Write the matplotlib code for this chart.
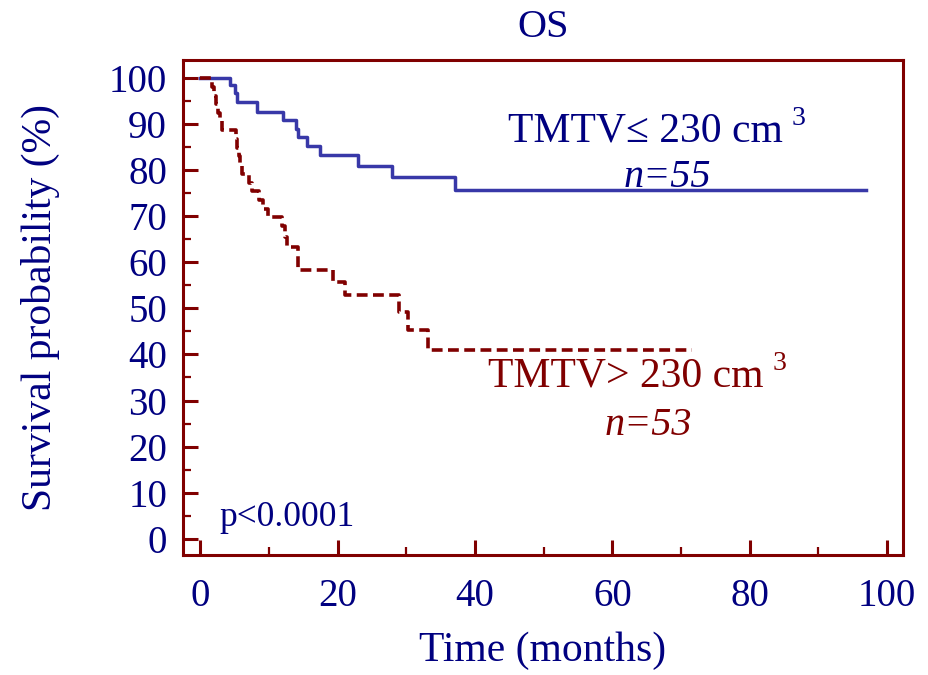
import matplotlib
matplotlib.use("Agg")
import matplotlib.pyplot as plt
from matplotlib.ticker import MultipleLocator

plt.rcParams["font.family"] = ["Liberation Serif", "DejaVu Serif"]

NAVY = "#000080"
MAROON = "#800000"
BLUE = "#3838a8"

# Kaplan-Meier steps (months, % surviving)
low_t = [0, 4.4, 5.1, 5.4, 8.3, 12.1, 13.9, 14.3, 15.5, 17.4, 23.0, 27.9, 37.1, 96.9]
low_s = [100, 98.5, 96.7, 94.7, 92.7, 91.0, 88.9, 87.1, 85.2, 83.3, 80.9, 78.6, 75.6, 75.6]

high_t = [0, 1.7, 2.0, 2.3, 2.6, 2.9, 3.2, 5.2, 5.4, 5.6, 5.8, 6.1, 7.1, 7.5, 8.6,
          9.2, 9.8, 11.9, 12.3, 12.7, 14.3, 19.4, 21.1, 28.9, 30.3, 33.2, 71.6]
high_s = [100, 98.1, 96.2, 94.3, 92.5, 90.6, 88.7, 86.8, 84.9, 83.0, 81.1, 79.2, 77.3,
          75.4, 73.5, 71.6, 69.8, 67.8, 65.6, 63.4, 58.4, 55.8, 52.9, 49.3, 45.3, 41.0, 41.0]

x_ticks = [0, 20, 40, 60, 80, 100]
y_ticks = list(range(0, 101, 10))

fig = plt.figure(figsize=(9.29, 6.75), dpi=100)
ax = fig.add_axes([0.197, 0.178, 0.775, 0.733])

ax.step(low_t, low_s, where="post", color=BLUE, lw=2.5, zorder=3)
ax.step(high_t, high_s, where="post", color=MAROON, lw=2.6,
        linestyle=(0, (3.0, 1.5)), zorder=4)

ax.set_xlim(-2.5, 102.3)
ax.set_ylim(-3.5, 103.9)
ax.set_xticks(x_ticks)
ax.set_yticks(y_ticks)
ax.xaxis.set_minor_locator(MultipleLocator(10))
ax.yaxis.set_minor_locator(MultipleLocator(5))

for s in ax.spines.values():
    s.set_color(MAROON)
    s.set_linewidth(2.2)

ax.tick_params(which="major", direction="in", length=11, width=2.2, color=MAROON,
               labelcolor=NAVY, labelsize=28)
ax.tick_params(which="minor", direction="in", length=5.5, width=1.6, color=MAROON)
ax.tick_params(axis="x", which="major", pad=17)
ax.tick_params(axis="y", which="major", pad=11.5)

ax.set_title("OS", fontsize=29, color=NAVY, pad=16.5)
ax.set_xlabel("Time (months)", fontsize=30, color=NAVY)
ax.set_ylabel("Survival probability (%)", fontsize=30, color=NAVY)
ax.xaxis.set_label_coords(0.5, -0.155)
ax.yaxis.set_label_coords(-0.171, 0.5)


def group_label(x, y, text, color):
    # main text, then a raised "3" placed right after its measured extent
    t = ax.text(x, y, text, fontsize=30, color=color, ha="left", va="baseline")
    r = fig.canvas.get_renderer()
    bb = t.get_window_extent(r)
    _, yb = ax.transData.transform((x, y))
    fig.text((bb.x1 + 9) / fig.bbox.width, (yb + 17) / fig.bbox.height, "3",
             fontsize=20, color=color, ha="left", va="baseline")


group_label(44.8, 86.2, "TMTV\u2264 230 cm", NAVY)
ax.text(68.0, 76.4, "n=55", fontsize=29, color=NAVY, style="italic",
        ha="center", va="baseline")
group_label(41.9, 33.0, "TMTV> 230 cm", MAROON)
ax.text(65.2, 22.6, "n=53", fontsize=29, color=MAROON, style="italic",
        ha="center", va="baseline")
ax.text(2.8, 2.7, "p<0.0001", fontsize=25.5, color=NAVY, ha="left", va="baseline")

fig.savefig("out.png", dpi=100)
